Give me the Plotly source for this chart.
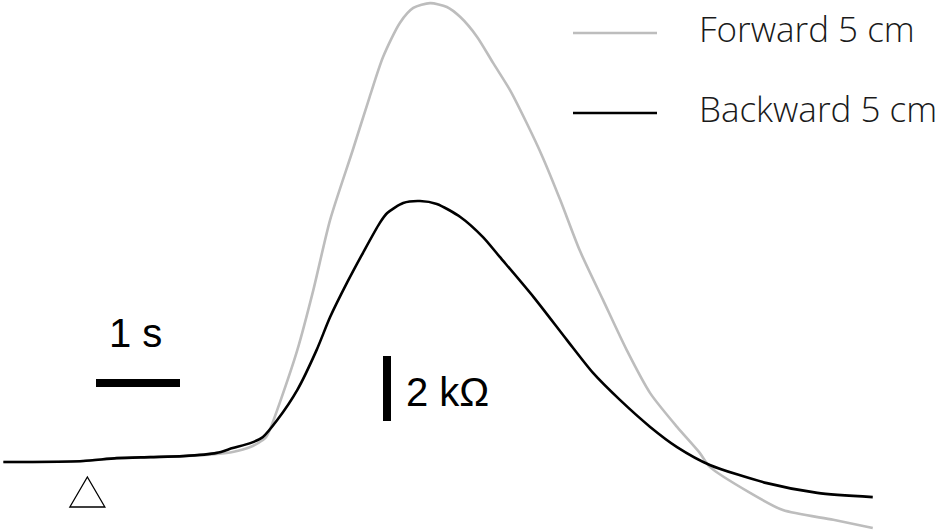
import plotly.graph_objects as go

# ---- data (time in s, resistance change in kOhm) ----
back_t = [0.04, 0.39, 0.99, 1.39, 1.79, 2.18, 2.58, 2.77, 2.98, 3.13, 3.30, 3.54,
          3.77, 3.93, 4.13, 4.32, 4.52, 4.61, 4.80, 5.00, 5.20, 5.48, 5.75, 5.95,
          6.35, 6.75, 7.06, 7.38, 7.74, 8.06, 8.45, 9.13, 9.73, 10.39]
back_r = [0.00, 0.00, 0.03, 0.12, 0.15, 0.18, 0.28, 0.43, 0.58, 0.77, 1.29, 2.22,
          3.45, 4.46, 5.51, 6.43, 7.35, 7.66, 7.97, 8.03, 7.94, 7.54, 6.92, 6.31,
          5.08, 3.75, 2.74, 1.91, 1.08, 0.46, -0.09, -0.65, -0.95, -1.08]

fwd_t = [0.04, 0.39, 0.99, 1.39, 1.79, 2.18, 2.58, 2.77, 2.98, 3.16, 3.21, 3.33,
         3.54, 3.73, 3.93, 4.20, 4.40, 4.56, 4.76, 4.92, 5.12, 5.32, 5.48, 5.68,
         5.87, 6.07, 6.27, 6.46, 6.67, 6.90, 7.18, 7.46, 7.74, 8.06, 8.33, 8.45,
         8.93, 9.32, 9.92, 10.39]
fwd_r = [0.00, 0.00, 0.03, 0.12, 0.15, 0.18, 0.25, 0.31, 0.46, 0.74, 0.98, 1.82,
         3.45, 5.29, 7.45, 9.60, 11.23, 12.46, 13.51, 13.97, 14.12, 14.00, 13.69, 13.08,
         12.28, 11.45, 10.43, 9.38, 8.06, 6.52, 4.98, 3.45, 2.12, 1.08, 0.28, -0.15,
         -0.95, -1.48, -1.78, -2.03]

series_names = ["Forward 5 cm", "Backward 5 cm"]
series_colors = ["#bdbdbd", "#000000"]

scale_time = 1.0      # s
scale_res = 2.0       # kOhm
scale_time_label = "1 s"
scale_res_label = "2 kΩ"
stim_t = 1.04         # stimulus onset (s)

# ---- layout helpers ----
W, H = 950, 532
PX_PER_S = 84.0
PX_PER_K = 32.5
BASE_PX = 462.0


def px_x(px):
    return px / PX_PER_S


def px_y(py):
    return (BASE_PX - py) / PX_PER_K


x_range = [px_x(0), px_x(W)]
y_range = [px_y(H), px_y(0)]

fig = go.Figure()
fig.add_trace(go.Scatter(x=fwd_t, y=fwd_r, mode="lines", name=series_names[0],
                         line=dict(color=series_colors[0], width=2.6, shape="spline", smoothing=0.7)))
fig.add_trace(go.Scatter(x=back_t, y=back_r, mode="lines", name=series_names[1],
                         line=dict(color=series_colors[1], width=2.6, shape="spline", smoothing=0.7)))

shapes = []
annotations = []

# legend (drawn manually)
for i, (nm, col) in enumerate(zip(series_names, series_colors)):
    ly = [33, 113][i]
    shapes.append(dict(type="line", xref="x", yref="y", x0=px_x(573), x1=px_x(657),
                       y0=px_y(ly), y1=px_y(ly), line=dict(color=col, width=2.6)))
    annotations.append(dict(text=nm, xref="x", yref="y", x=px_x(697), y=px_y(ly - 5),
                            xanchor="left", yanchor="middle", showarrow=False,
                            font=dict(family="Open Sans", size=35, color="#1a1a1a", weight=300)))

# time scale bar
tb_x0 = px_x(96)
tb_y = px_y(383)
shapes.append(dict(type="line", xref="x", yref="y", x0=tb_x0, x1=tb_x0 + scale_time,
                   y0=tb_y, y1=tb_y, line=dict(color="black", width=8)))
annotations.append(dict(text=scale_time_label, xref="x", yref="y", x=px_x(135),
                        y=px_y(333), xanchor="center", yanchor="middle", showarrow=False,
                        font=dict(family="Liberation Sans", size=40, color="black")))

# resistance scale bar
rb_x = px_x(387)
rb_y0 = px_y(421)
shapes.append(dict(type="line", xref="x", yref="y", x0=rb_x, x1=rb_x,
                   y0=rb_y0, y1=rb_y0 + scale_res, line=dict(color="black", width=8)))
annotations.append(dict(text=scale_res_label, xref="x", yref="y", x=px_x(404),
                        y=px_y(392), xanchor="left", yanchor="middle", showarrow=False,
                        font=dict(family="Liberation Sans", size=40, color="black")))

# stimulus marker (open triangle)
half_w = 17.5 / PX_PER_S
tri_top = px_y(477)
tri_bot = px_y(507)
shapes.append(dict(type="path", xref="x", yref="y",
                   path=f"M {stim_t - half_w} {tri_bot} L {stim_t + half_w} {tri_bot} L {stim_t} {tri_top} Z",
                   line=dict(color="black", width=1.3), fillcolor="rgba(0,0,0,0)"))

fig.update_layout(
    width=W, height=H,
    margin=dict(l=0, r=0, t=0, b=0),
    paper_bgcolor="white", plot_bgcolor="white",
    showlegend=False,
    hovermode=False,
    xaxis=dict(range=x_range, visible=False, fixedrange=True),
    yaxis=dict(range=y_range, visible=False, fixedrange=True),
    shapes=shapes, annotations=annotations,
)

fig.write_html(
    "out.html",
    config={"displayModeBar": False, "staticPlot": True},
    post_script="document.body.style.margin='0';document.body.style.overflow='hidden';",
)
